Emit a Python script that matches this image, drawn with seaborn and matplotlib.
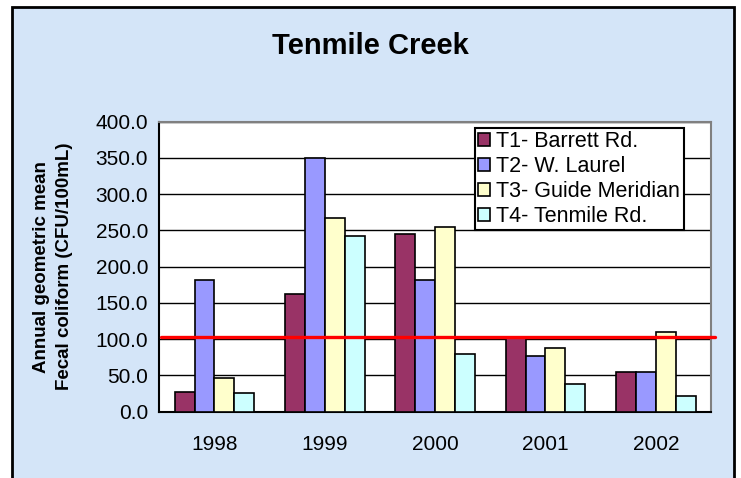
import matplotlib
matplotlib.use("Agg")
import matplotlib.pyplot as plt
import seaborn as sns
import pandas as pd
from matplotlib.patches import Rectangle

# data
years = ["1998", "1999", "2000", "2001", "2002"]
sites = ["T1- Barrett Rd.", "T2- W. Laurel", "T3- Guide Meridian", "T4- Tenmile Rd."]
t1 = [27, 162, 245, 102, 55]
t2 = [181, 350, 181, 77, 55]
t3 = [46, 267, 255, 88, 110]
t4 = [26, 242, 79, 38, 21]
standard = 103  # fecal coliform criterion line

colors = ["#993366", "#9999FF", "#FFFFCC", "#CCFFFF"]

rows = []
for site, vals in zip(sites, [t1, t2, t3, t4]):
    for yr, v in zip(years, vals):
        rows.append({"year": yr, "site": site, "value": v})
df = pd.DataFrame(rows)

sns.set_style("white")
plt.rcParams["font.family"] = ["Liberation Sans", "DejaVu Sans"]
plt.rcParams["text.color"] = "black"
plt.rcParams["xtick.color"] = "black"
plt.rcParams["ytick.color"] = "black"
plt.rcParams["axes.labelcolor"] = "black"

fig = plt.figure(figsize=(7.41, 4.78), dpi=100)
fig.patch.set_facecolor("white")
# light blue slide background with black frame
bg = Rectangle((12 / 741, -0.05), 722 / 741, 1 - 7 / 478 + 0.05,
               transform=fig.transFigure, facecolor="#D4E5F8",
               edgecolor="black", linewidth=2, zorder=-10)
fig.patches.append(bg)

ax = fig.add_axes([0.215, 0.1387, 0.7445, 0.6067])
ax.set_zorder(1)
ax.set_facecolor("white")

sns.barplot(data=df, x="year", y="value", hue="site", palette=colors,
            saturation=1, width=0.72, edgecolor="black", linewidth=1.2,
            ax=ax, zorder=3)

ax.axhline(standard, color="#FF0000", linewidth=2.4, zorder=4, clip_on=False,
           xmin=0.003, xmax=1.007)

ax.set_ylim(0, 400)
ax.set_xlim(-0.5, 4.5)
ax.set_yticks(range(0, 401, 50))
ax.set_yticklabels([f"{v:.1f}" for v in range(0, 401, 50)], fontsize=15)
ax.yaxis.grid(True, color="black", linewidth=1)
ax.set_axisbelow(True)

# category labels centered, tick marks between categories
ax.set_xticks([i + 0.5 for i in range(-1, 5)])
ax.set_xticklabels([])
ax.set_xticks(range(5), minor=True)
ax.set_xticklabels(years, minor=True, fontsize=15)
ax.tick_params(axis="x", which="major", direction="out", length=6, width=1.2, color="black")
ax.tick_params(axis="x", which="minor", length=0, pad=17)
ax.tick_params(axis="y", direction="out", length=5, width=1.2, color="black", pad=3)

for side in ["left", "bottom"]:
    ax.spines[side].set_color("black")
    ax.spines[side].set_linewidth(1.5)
for side in ["top", "right"]:
    ax.spines[side].set_color("#808080")
    ax.spines[side].set_linewidth(1.5)

ax.set_xlabel("")
ax.set_ylabel("Annual geometric mean\nFecal coliform (CFU/100mL)", fontsize=13.5,
              fontweight="bold", labelpad=16, linespacing=1.5)

leg = ax.legend(loc="upper left", bbox_to_anchor=(0.572, 0.978), fontsize=15.5,
                frameon=True, fancybox=False, framealpha=1, edgecolor="black",
                borderpad=0.15, labelspacing=0.18, handlelength=0.55,
                handleheight=0.55, handletextpad=0.3, borderaxespad=0)
leg.get_frame().set_linewidth(1.5)
leg.set_zorder(5)

fig.text(0.5, 0.903, "Tenmile Creek", ha="center", va="center",
         fontsize=21, fontweight="bold", color="black")

fig.savefig("out.png", dpi=100)
